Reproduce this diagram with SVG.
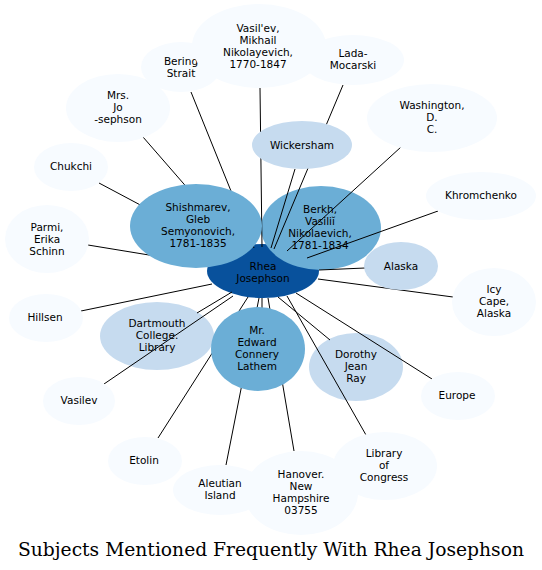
<svg xmlns="http://www.w3.org/2000/svg" width="542" height="570" viewBox="0 0 542 570">
<style>
.n text{font-family:"DejaVu Sans","Liberation Sans",sans-serif;font-size:10.5px;fill:#000;text-anchor:middle}
.pale{fill:#f7fbff}
.light{fill:#c6dbef}
.mid{fill:#6baed6}
.dark{fill:#08519c}
#edges path{stroke:#000;stroke-width:1;fill:none}
.title{font-family:"DejaVu Serif","Liberation Serif",serif;font-size:18.7px;fill:#000;text-anchor:middle}
</style>
<rect width="542" height="570" fill="#fff"/>
<g id="rhea" class="n"><ellipse class="dark" cx="263" cy="271" rx="56" ry="27"/><text x="263" y="270">Rhea</text><text x="263" y="282">Josephson</text></g>
<g id="berkh" class="n"><ellipse class="mid" cx="321" cy="228" rx="60" ry="42"/><text x="320" y="213">Berkh,</text><text x="320" y="225">Vasiliĭ</text><text x="320" y="237">Nikolaevich,</text><text x="320" y="249">1781-1834</text></g>
<g id="dartmouth" class="n"><ellipse class="light" cx="157" cy="336" rx="57" ry="34"/><text x="157" y="327">Dartmouth</text><text x="157" y="339">College.</text><text x="157" y="351">Library</text></g>
<g id="dorothy" class="n"><ellipse class="light" cx="356" cy="367" rx="47" ry="34"/><text x="356" y="358">Dorothy</text><text x="356" y="370">Jean</text><text x="356" y="382">Ray</text></g>
<g id="edges">
<path d="M262,247 L260,88"/>
<path d="M254,248 L191,92"/>
<path d="M237,245 L143,137"/>
<path d="M225,250 L99,183"/>
<path d="M210,265 L88,245"/>
<path d="M212,284 L81,311"/>
<path d="M232,292 L197,313"/>
<path d="M233,296 L104,384"/>
<path d="M248,297 L158,438"/>
<path d="M259,298 L226,465"/>
<path d="M262,298 L262,310"/>
<path d="M268,298 L294,451"/>
<path d="M278,297 L330,340"/>
<path d="M287,296 L366,435"/>
<path d="M296,293 L432,379"/>
<path d="M318,279 L453,297"/>
<path d="M319,270 L365,268"/>
<path d="M307,258 L438,211"/>
<path d="M287,251 L401,147"/>
<path d="M271,248 L295,169"/>
<path d="M274,249 L343,85"/>
</g>
<g id="shishmarev" class="n"><ellipse class="mid" cx="196" cy="226" rx="66" ry="42"/><text x="198" y="211">Shishmarev,</text><text x="198" y="223">Gleb</text><text x="198" y="235">Semyonovich,</text><text x="198" y="247">1781-1835</text></g>
<g id="lathem" class="n"><ellipse class="mid" cx="258" cy="349" rx="47" ry="42"/><text x="257" y="334">Mr.</text><text x="257" y="346">Edward</text><text x="257" y="358">Connery</text><text x="257" y="370">Lathem</text></g>
<g id="wickersham" class="n"><ellipse class="light" cx="302" cy="145" rx="50" ry="24"/><text x="302" y="149">Wickersham</text></g>
<g id="alaska" class="n"><ellipse class="light" cx="401" cy="266" rx="37" ry="24"/><text x="401" y="270">Alaska</text></g>
<g id="bering" class="n"><ellipse class="pale" cx="181" cy="67" rx="40" ry="25"/><text x="181" y="65">Bering</text><text x="181" y="77">Strait</text></g>
<g id="vasilev-mikhail" class="n"><ellipse class="pale" cx="259" cy="46" rx="67" ry="42"/><text x="258" y="32">Vasil'ev,</text><text x="258" y="44">Mikhail</text><text x="258" y="56">Nikolayevich,</text><text x="258" y="68">1770-1847</text></g>
<g id="lada" class="n"><ellipse class="pale" cx="353" cy="60" rx="51" ry="25"/><text x="353" y="57">Lada-</text><text x="353" y="69">Mocarski</text></g>
<g id="mrsjo" class="n"><ellipse class="pale" cx="118" cy="108" rx="52" ry="34"/><text x="118" y="99">Mrs.</text><text x="118" y="111">Jo</text><text x="118" y="123">-sephson</text></g>
<g id="washington" class="n"><ellipse class="pale" cx="432" cy="118" rx="65" ry="34"/><text x="432" y="109">Washington,</text><text x="432" y="121">D.</text><text x="432" y="133">C.</text></g>
<g id="chukchi" class="n"><ellipse class="pale" cx="71" cy="167" rx="37" ry="24"/><text x="71" y="170">Chukchi</text></g>
<g id="khromchenko" class="n"><ellipse class="pale" cx="481" cy="196" rx="55" ry="24"/><text x="481" y="199">Khromchenko</text></g>
<g id="parmi" class="n"><ellipse class="pale" cx="47" cy="239" rx="42" ry="34"/><text x="47" y="231">Parmi,</text><text x="47" y="243">Erika</text><text x="47" y="255">Schinn</text></g>
<g id="icycape" class="n"><ellipse class="pale" cx="494" cy="302" rx="42" ry="34"/><text x="494" y="293">Icy</text><text x="494" y="305">Cape,</text><text x="494" y="317">Alaska</text></g>
<g id="hillsen" class="n"><ellipse class="pale" cx="46" cy="318" rx="37" ry="24"/><text x="45" y="321">Hillsen</text></g>
<g id="vasilev" class="n"><ellipse class="pale" cx="79" cy="401" rx="36" ry="24"/><text x="79" y="404">Vasilev</text></g>
<g id="europe" class="n"><ellipse class="pale" cx="458" cy="396" rx="37" ry="24"/><text x="457" y="399">Europe</text></g>
<g id="etolin" class="n"><ellipse class="pale" cx="145" cy="461" rx="37" ry="24"/><text x="144" y="464">Etolin</text></g>
<g id="aleutian" class="n"><ellipse class="pale" cx="220" cy="490" rx="47" ry="25"/><text x="220" y="487">Aleutian</text><text x="220" y="499">Island</text></g>
<g id="hanover" class="n"><ellipse class="pale" cx="301" cy="493" rx="57" ry="42"/><text x="301" y="478">Hanover.</text><text x="301" y="490">New</text><text x="301" y="502">Hampshire</text><text x="301" y="514">03755</text></g>
<g id="library" class="n"><ellipse class="pale" cx="385" cy="466" rx="52" ry="34"/><text x="384" y="457">Library</text><text x="384" y="469">of</text><text x="384" y="481">Congress</text></g>
<text class="title" x="271" y="556">Subjects Mentioned Frequently With Rhea Josephson</text>
</svg>
